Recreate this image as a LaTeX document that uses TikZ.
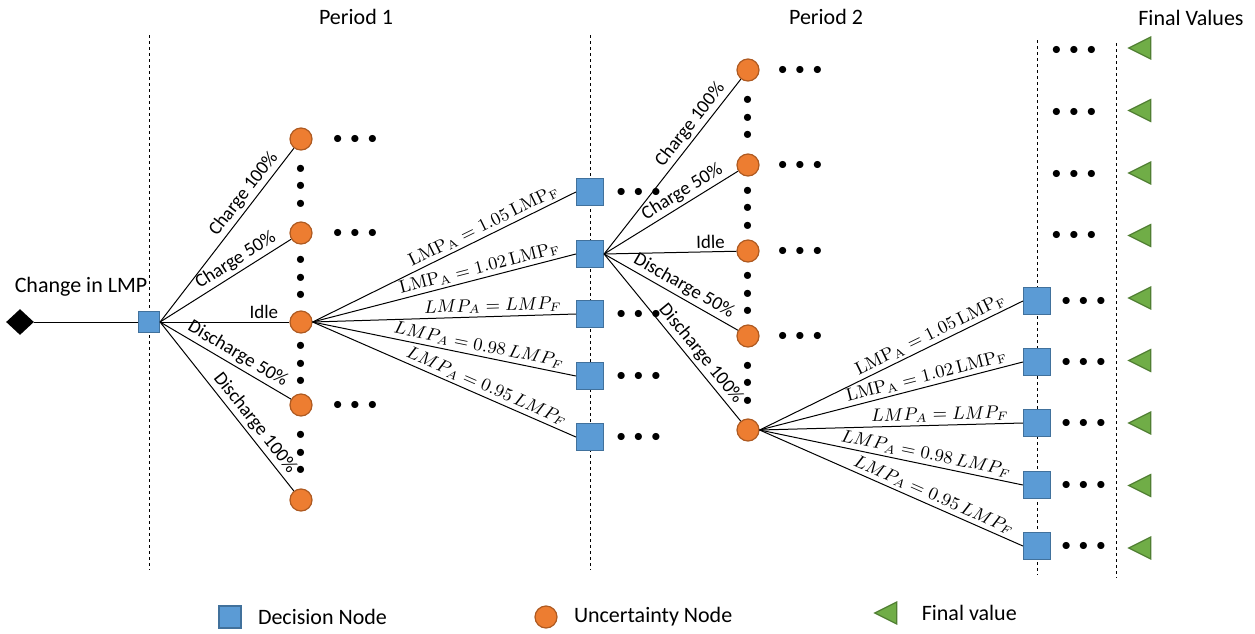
\documentclass[tikz,border=0pt]{standalone}
\usepackage[no-math]{fontspec}
\setmainfont{Carlito}
\usepackage{tikz}
\newcommand*{\LA}{\mathrm{LMP}_\mathrm{A}}
\newcommand*{\LF}{\mathrm{LMP}_\mathrm{F}}
\newcommand*{\ddd}{$\bullet\mkern4mu\bullet\mkern4mu\bullet$}
\usetikzlibrary{positioning, calc, shapes.geometric}
\definecolor{decfill}{HTML}{5B9BD5}
\definecolor{decline}{HTML}{41719C}
\definecolor{uncfill}{HTML}{ED7D31}
\definecolor{uncline}{HTML}{AE5A21}
\definecolor{finfill}{HTML}{70AD47}
\definecolor{finline}{HTML}{507E32}
\tikzstyle{decision} = [draw=decline, fill=decfill, line width=0.6pt, rectangle, minimum size=13.5pt, inner sep=0pt]
\tikzstyle{chance} = [draw=uncline, fill=uncfill, line width=0.6pt, circle, minimum size=11pt, inner sep=0pt]
\tikzstyle{final} = [draw=finline, fill=finfill, line width=0.6pt, isosceles triangle, isosceles triangle stretches, shape border rotate=180, minimum width=11pt, minimum height=11pt, inner sep=0pt]
\tikzstyle{origin} = [fill=black, diamond, minimum width=14pt, minimum height=13pt, inner sep=0pt]
\tikzstyle{heading} = [font=\fontsize{11}{13}\selectfont, inner sep=1pt]
\tikzstyle{legendtext} = [font=\fontsize{11}{13}\selectfont, inner sep=1pt]
\tikzstyle{lbl} = [font=\fontsize{9.5}{11}\selectfont, inner sep=1.5pt]
\tikzstyle{action} = [lbl, sloped, pos=0.94, anchor=south east]
\tikzstyle{price} = [lbl, font=\fontsize{9}{11}\selectfont, sloped, pos=0.96, anchor=south east]
\tikzstyle{hdots} = [font=\fontsize{9}{9}\selectfont, inner sep=0pt]
\tikzstyle{vdots} = [hdots, rotate=90]
\tikzstyle{branch} = [line width=0.5pt]
\tikzstyle{period} = [line width=0.45pt, dash pattern=on 1.5pt off 1.5pt]

\begin{document}
\begin{tikzpicture}[x=0.5pt, y=-0.5pt, node distance=10pt]
    \useasboundingbox (0,0) rectangle (1255,633);

    % Period borders.
    \foreach \x/\a/\b in {149/35/570, 590/35/570, 1037/40/575, 1116/43/578} {
        \draw [period] (\x,\a) -- (\x,\b);
    }

    % Headings.
    \node (period1) [heading] at (356,17) {Period 1};
    \node (period2) [heading] at (826,17) {Period 2};
    \node (finals) [heading] at (1191,18) {Final Values};

    % Root.
    \node (start) [origin] at (20,322) {};
    \node (root) [decision, minimum size=10.5pt] at (149,322) {};
    \node (change) [heading] at (81,287) {Change in LMP};

    % Nodes.
    \foreach \i/\y in {1/139, 2/233, 3/322, 4/405, 5/500} {
        \node (u1\i) [chance] at (301,\y) {};
    }
    \foreach \i/\y in {1/192, 2/254, 3/314, 4/376, 5/437} {
        \node (d1\i) [decision] at (590,\y) {};
    }
    \foreach \i/\y in {1/70, 2/165, 3/251, 4/336, 5/430} {
        \node (u2\i) [chance] at (748,\y) {};
    }
    \foreach \i/\y in {1/301, 2/362, 3/423, 4/485, 5/546} {
        \node (d2\i) [decision] at (1037,\y) {};
    }
    \foreach \i in {0, ..., 8} {
        \node (f\i) [final] at (1144,{48+62.5*\i}) {};
    }

    % Dots.
    \foreach \i in {1, 2, 4} {
        \node (hu1\i) [hdots, right=10pt of u1\i] {\ddd};
    }
    \foreach \i in {1, 3, 4, 5} {
        \node (hd1\i) [hdots, right=6pt of d1\i] {\ddd};
    }
    \foreach \i in {1, ..., 4} {
        \node (hu2\i) [hdots, right=9pt of u2\i] {\ddd};
    }
    \foreach \i in {1, ..., 5} {
        \node (hd2\i) [hdots, right=5pt of d2\i] {\ddd};
    }
    \foreach \i/\y in {1/50, 2/112, 3/174, 4/235} {
        \node (hf\i) [hdots] at (1074,\y) {\ddd};
    }
    \foreach \i/\j in {1/2, 2/3, 3/4, 4/5} {
        \node (vu1\i) [vdots] at ($(u1\i)!0.5!(u1\j)$) {\ddd};
        \node (vu2\i) [vdots] at ($(u2\i)!0.5!(u2\j)$) {\ddd};
    }

    % Branches.
    \draw [branch] (start) -- (root);
    \foreach \i/\t in {1/Charge 100\%, 2/Charge 50\%, 3/Idle, 4/Discharge 50\%, 5/Discharge 100\%} {
        \draw [branch] (root.east) -- node [action] {\t} (u1\i);
        \draw [branch] (d12.east) -- node [action] {\t} (u2\i);
    }
    \foreach \i/\t in {1/{$\LA = 1.05\,\LF$}, 2/{$\LA = 1.02\,\LF$}, 3/{$LMP_A = LMP_F$}, 4/{$LMP_A = 0.98\,LMP_F$}, 5/{$LMP_A = 0.95\,LMP_F$}} {
        \draw [branch] (u13.east) -- node [price] {\t} (d1\i.west);
        \draw [branch] (u25.east) -- node [price] {\t} (d2\i.west);
    }

    % Legend.
    \node (keyd) [decision, minimum size=11pt] at (230,617) {};
    \node (keydtext) [legendtext, right=7pt of keyd] {Decision Node};
    \node (keyu) [chance] at (546,617) {};
    \node (keyutext) [legendtext, right=7pt of keyu] {Uncertainty Node};
    \node (keyf) [final] at (890,613) {};
    \node (keyftext) [legendtext, right=11pt of keyf] {Final value};
\end{tikzpicture}
\end{document}
